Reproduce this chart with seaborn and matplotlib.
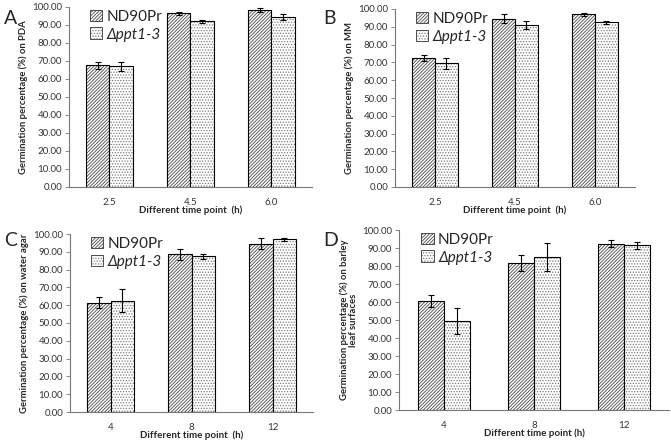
import numpy as np
import pandas as pd
import seaborn as sns
import matplotlib.pyplot as plt
from matplotlib.colors import to_rgba
from matplotlib.patches import Patch

# values (mean, error)
strains = ['ND90Pr', 'Δppt1-3']

times_ab = ['2.5', '4.5', '6.0']
times_cd = ['4', '8', '12']

pda_nd = [67.5, 96.5, 98.5]
pda_nd_err = [2.0, 0.8, 1.2]
pda_mut = [67.0, 92.0, 94.5]
pda_mut_err = [2.5, 1.0, 1.5]

mm_nd = [72.5, 94.5, 97.0]
mm_nd_err = [1.8, 2.5, 1.0]
mm_mut = [69.5, 91.0, 92.5]
mm_mut_err = [3.0, 2.5, 1.0]

wa_nd = [61.5, 88.5, 94.5]
wa_nd_err = [3.0, 3.0, 3.0]
wa_mut = [62.5, 87.5, 97.0]
wa_mut_err = [6.5, 1.5, 0.8]

bl_nd = [60.5, 81.5, 92.5]
bl_nd_err = [3.5, 4.5, 1.8]
bl_mut = [49.5, 85.0, 91.5]
bl_mut_err = [7.0, 8.0, 2.0]

sns.set_style('white')
plt.rcParams['font.family'] = ['Lato', 'DejaVu Sans']
plt.rcParams['hatch.linewidth'] = 0.6

fig = plt.figure(figsize=(6.71, 4.46), dpi=100)
W, H = 671, 446


def px_axes(left, right, top, bottom):
    return fig.add_axes([left / W, (H - bottom) / H, (right - left) / W, (bottom - top) / H])


panels = [
    ('A', px_axes(69, 312, 7, 187), times_ab, pda_nd, pda_nd_err, pda_mut, pda_mut_err,
     'Germination percentage (%) on PDA', 'Different time point  (h)', (4, 18)),
    ('B', px_axes(395, 635, 9, 187), times_ab, mm_nd, mm_nd_err, mm_mut, mm_mut_err,
     'Germination percentage (%) on MM', 'Different time point  (h)', (323, 18)),
    ('C', px_axes(70, 313, 234, 412), times_cd, wa_nd, wa_nd_err, wa_mut, wa_mut_err,
     'Germination percentage (%) on water agar', 'Different time point  (h)', (4, 241)),
    ('D', px_axes(399, 669, 230, 410), times_cd, bl_nd, bl_nd_err, bl_mut, bl_mut_err,
     'Germination percentage (%) on barley\nleaf surfaces', 'Different time point (h)', (323, 241)),
]

hatches = ['//////////', '......']
hatch_colors = ['#484848', '#7a7a7a']


def style_hatch(patch, i):
    patch.set_hatch(hatches[i])
    if hasattr(patch, 'set_hatchcolor'):
        patch.set_hatchcolor(hatch_colors[i])
    else:
        patch._hatch_color = to_rgba(hatch_colors[i])


for letter, ax, times, nd, nd_err, mut, mut_err, ylab, xlab, lpos in panels:
    df = pd.DataFrame({
        'time': times * 2,
        'strain': [strains[0]] * 3 + [strains[1]] * 3,
        'value': nd + mut,
        'err': nd_err + mut_err,
    })
    sns.barplot(data=df, x='time', y='value', hue='strain', order=times,
                hue_order=strains, palette=['white', 'white'], width=0.57,
                errorbar=None, edgecolor='black', linewidth=0.8, ax=ax, legend=False)
    bar_containers = list(ax.containers)
    for i, container in enumerate(bar_containers):
        sub = df[df['strain'] == strains[i]]
        xs = []
        for bar in container:
            style_hatch(bar, i)
            xs.append(bar.get_x() + bar.get_width() / 2)
        ax.errorbar(xs, sub['value'], yerr=sub['err'], fmt='none',
                    ecolor='black', elinewidth=0.8, capsize=2.2, capthick=0.8)

    ax.set_ylim(0, 100)
    ax.set_xlim(-0.5, 2.5)
    ax.set_yticks(np.arange(0, 101, 10))
    ax.set_yticklabels([f'{v:.2f}' for v in np.arange(0, 101, 10)], fontsize=7, color='#333333')
    ax.set_xticks([0, 1, 2])
    ax.set_xticklabels(times, fontsize=7, color='#333333')
    ax.set_xticks([-0.5, 0.5, 1.5, 2.5], minor=True)
    ax.tick_params(axis='x', which='major', length=0, pad=8)
    ax.tick_params(axis='x', which='minor', length=3, width=0.6, color='#777777')
    ax.tick_params(axis='y', length=3, width=0.6, color='#777777', pad=2, left=True)
    for s in ['top', 'right']:
        ax.spines[s].set_visible(False)
    for s in ['left', 'bottom']:
        ax.spines[s].set_color('#777777')
        ax.spines[s].set_linewidth(0.8)
    ax.set_xlabel(xlab, fontsize=7, fontweight='bold', labelpad=-1)
    ax.set_ylabel(ylab, fontsize=6.8, fontweight='bold', labelpad=3, linespacing=1.0)

    handles = []
    for i, name in enumerate(strains):
        p = Patch(facecolor='white', edgecolor='#333333', linewidth=0.6, label=name)
        style_hatch(p, i)
        handles.append(p)
    leg = ax.legend(handles=handles, loc='upper left', bbox_to_anchor=(0.06, 1.02),
                    frameon=False, fontsize=11, handlelength=0.8, handleheight=0.8,
                    handletextpad=0.3, labelspacing=0.25, borderaxespad=0)
    leg.get_texts()[1].set_fontstyle('italic')

    fig.text(lpos[0] / W, 1 - lpos[1] / H, letter, fontsize=14, va='center', ha='left')

fig.savefig('out.png', dpi=100)
